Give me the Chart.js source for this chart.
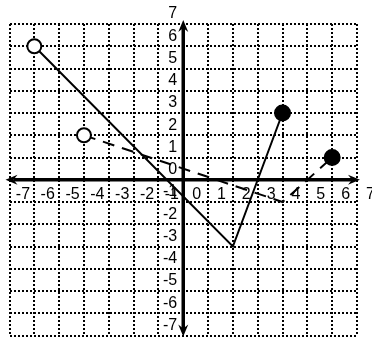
<!DOCTYPE html>
<html>
<head>
<meta charset="utf-8">
<script src="https://cdn.jsdelivr.net/npm/chart.js@4/dist/chart.umd.min.js"></script>
<style>
  html, body { margin: 0; padding: 0; background: #fff; }
  #wrap { width: 372px; height: 345px; }
</style>
</head>
<body>
<div id="wrap"><canvas id="myChart" width="372" height="345"></canvas></div>
<script>
// values
const solidX = [-6, 2, 4];
const solidY = [6, -3, 3];
const dashedX = [-4, 4, 6];
const dashedY = [2, -1, 1];
const xTickLabels = [-7, -6, -5, -4, -3, -2, -1, 0, 1, 2, 3, 4, 5, 6, 7];
const yTickLabels = [-7, -6, -5, -4, -3, -2, -1, 0, 1, 2, 3, 4, 5, 6, 7];

const toPoints = (xs, ys) => xs.map((x, i) => ({ x: x, y: ys[i] }));

function arrow(ctx, x, y, dir) {
  // dir: unit vector pointing toward the tip
  const [dx, dy] = dir;
  const px = -dy, py = dx;
  ctx.beginPath();
  ctx.moveTo(x, y);
  ctx.lineTo(x - dx * 12 + px * 5, y - dy * 12 + py * 5);
  ctx.lineTo(x - dx * 8, y - dy * 8);
  ctx.lineTo(x - dx * 12 - px * 5, y - dy * 12 - py * 5);
  ctx.closePath();
  ctx.fill();
}

const axesPlugin = {
  id: 'axesPlugin',
  beforeDatasetsDraw(chart) {
    const ctx = chart.ctx;
    const xs = chart.scales.x, ys = chart.scales.y;
    const x0 = xs.getPixelForValue(0), y0 = ys.getPixelForValue(0);
    const left = xs.left - 4, right = xs.right + 3;
    const top = ys.top - 4, bottom = ys.bottom + 1;
    ctx.save();
    ctx.strokeStyle = '#000';
    ctx.fillStyle = '#000';
    ctx.lineWidth = 3.5;
    ctx.beginPath();
    ctx.moveTo(left + 8, y0); ctx.lineTo(right - 8, y0);
    ctx.moveTo(x0, top + 8); ctx.lineTo(x0, bottom - 8);
    ctx.stroke();
    arrow(ctx, left, y0, [-1, 0]);
    arrow(ctx, right, y0, [1, 0]);
    arrow(ctx, x0, top, [0, -1]);
    arrow(ctx, x0, bottom, [0, 1]);
    ctx.restore();
  },
  afterDatasetsDraw(chart) {
    const ctx = chart.ctx;
    const xs = chart.scales.x, ys = chart.scales.y;
    const x0 = xs.getPixelForValue(0), y0 = ys.getPixelForValue(0);
    ctx.save();
    ctx.fillStyle = '#000';
    ctx.font = '16px "Liberation Sans", Arial, sans-serif';
    ctx.textAlign = 'center';
    ctx.textBaseline = 'middle';
    xTickLabels.forEach(v => {
      ctx.fillText(String(v), xs.getPixelForValue(v + 0.5) + 1, y0 + 15);
    });
    ctx.textAlign = 'right';
    yTickLabels.forEach(v => {
      ctx.fillText(String(v), x0 - 6, ys.getPixelForValue(v + 0.5) + 1);
    });
    ctx.restore();
  }
};

const ctx = document.getElementById('myChart').getContext('2d');
new Chart(ctx, {
  type: 'scatter',
  data: {
    datasets: [{
      data: toPoints(solidX, solidY),
      showLine: true,
      borderColor: '#000',
      borderWidth: 2,
      pointRadius: [7, 0, 7.5],
      pointBorderWidth: 2,
      pointBorderColor: '#000',
      pointBackgroundColor: ['#fff', '#000', '#000']
    }, {
      data: toPoints(dashedX, dashedY),
      showLine: true,
      borderColor: '#000',
      borderWidth: 2,
      borderDash: [12, 8],
      pointRadius: [7, 0, 7.5],
      pointBorderWidth: 2,
      pointBorderColor: '#000',
      pointBackgroundColor: ['#fff', '#000', '#000']
    }]
  },
  options: {
    responsive: false,
    animation: false,
    layout: { padding: { left: 7, right: 15, top: 24, bottom: 3 } },
    plugins: { legend: { display: false }, tooltip: { enabled: false } },
    scales: {
      x: {
        type: 'linear', min: -7, max: 7,
        ticks: { display: false, stepSize: 1 },
        grid: { color: '#000', lineWidth: 2, drawTicks: false },
        border: { display: false, dash: [2, 2] }
      },
      y: {
        type: 'linear', min: -7, max: 7,
        ticks: { display: false, stepSize: 1 },
        grid: { color: '#000', lineWidth: 2, drawTicks: false },
        border: { display: false, dash: [2, 2] }
      }
    }
  },
  plugins: [axesPlugin]
});
</script>
</body>
</html>
